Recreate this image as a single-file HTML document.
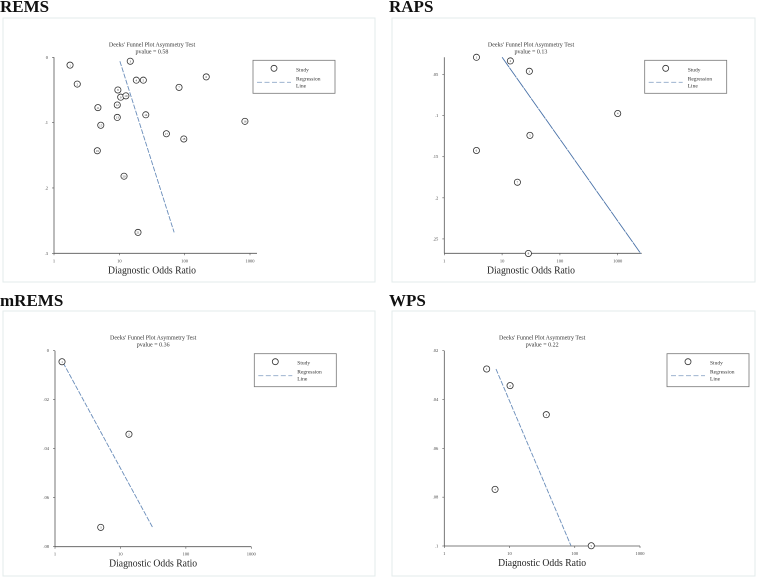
<!DOCTYPE html>
<html><head><meta charset="utf-8"><style>
html,body{margin:0;padding:0;background:#fff;}
svg{display:block;}
svg text{font-family:"Liberation Serif","DejaVu Serif",serif;}
</style></head><body>
<svg id="chart" width="758" height="578" viewBox="0 0 758 578"></svg>
<script>
// REMS
const remsDOR = [1.76,2.27,14.7,18.2,23.3,214,82,9.5,10.5,12.6,4.7,9.3,9.3,25.4,5.2,836,52.5,97,4.6,11.8,19.3];
const remsSE = [.012,.041,.006,.035,.035,.030,.046,.050,.061,.059,.077,.073,.092,.088,.104,.098,.117,.125,.143,.182,.268];
const remsLineDOR = [10.2,69];
const remsLineSE = [.006,.268];
const remsYTicks = [0,.1,.2,.3];
const remsYLabels = ["0",".1",".2",".3"];
// RAPS
const rapsDOR = [3.6,13.9,29.6,1000,30.3,3.6,18.4,28.5];
const rapsSE = [.029,.0334,.046,.0974,.124,.1424,.181,.2677];
const rapsLineDOR = [10,2500];
const rapsLineSE = [.029,.2677];
const rapsYTicks = [.05,.1,.15,.2,.25];
const rapsYLabels = [".05",".1",".15",".2",".25"];
// mREMS
const mremsDOR = [1.28,13.5,5.0];
const mremsSE = [.0045,.0341,.0721];
const mremsLineDOR = [1.33,31];
const mremsLineSE = [.0049,.0721];
const mremsYTicks = [0,.02,.04,.06,.08];
const mremsYLabels = ["0",".02",".04",".06",".08"];
// WPS
const wpsDOR = [4.46,10.2,36.6,6.0,179];
const wpsSE = [.0275,.0343,.0462,.0768,.0999];
const wpsLineDOR = [6.2,87.5];
const wpsLineSE = [.0275,.0999];
const wpsYTicks = [.02,.04,.06,.08,.1];
const wpsYLabels = [".02",".04",".06",".08",".1"];
const pvalues = ["0.58","0.13","0.36","0.22"];
const xTicks = [1,10,100,1000];
const xTickLabels = ["1","10","100","1000"];

const NS="http://www.w3.org/2000/svg";
const svg=document.getElementById('chart');
function mk(tag,attrs,parent){const e=document.createElementNS(NS,tag);for(const k in attrs)e.setAttribute(k,attrs[k]);(parent||svg).appendChild(e);return e;}

const panels=[
 {name:"REMS",box:[3,18,375,282],ax:54,xEnd:250,xAxisEnd:257,top:57.3,bot:253.3,ymin:0,ymax:.3,dor:remsDOR,se:remsSE,lx:remsLineDOR,ly:remsLineSE,yt:remsYTicks,yl:remsYLabels,pv:pvalues[0],titleY:12,solid:false},
 {name:"RAPS",box:[392,18,755,282],ax:444.3,xEnd:617.7,xAxisEnd:641.7,top:57.3,bot:253.3,ymin:.029,ymax:.2675,dor:rapsDOR,se:rapsSE,lx:rapsLineDOR,ly:rapsLineSE,yt:rapsYTicks,yl:rapsYLabels,pv:pvalues[1],titleY:12,solid:true},
 {name:"mREMS",box:[3,311,375,576],ax:55,xEnd:251.3,xAxisEnd:251.3,top:350.7,bot:546.7,ymin:0,ymax:.08,dor:mremsDOR,se:mremsSE,lx:mremsLineDOR,ly:mremsLineSE,yt:mremsYTicks,yl:mremsYLabels,pv:pvalues[2],titleY:306,solid:false},
 {name:"WPS",box:[392,311,755,576],ax:444.3,xEnd:640,xAxisEnd:640,top:350.7,bot:546,ymin:.02,ymax:.1,dor:wpsDOR,se:wpsSE,lx:wpsLineDOR,ly:wpsLineSE,yt:wpsYTicks,yl:wpsYLabels,pv:pvalues[3],titleY:306,solid:false}
];

panels.forEach((p,pi)=>{
 const g=mk('g',{});
 const key=p.name.toLowerCase();
 
 
 const xs=v=>p.ax+(Math.log10(v))/3*(p.xEnd-p.ax);
 const ys=v=>p.top+(v-p.ymin)/(p.ymax-p.ymin)*(p.bot-p.top);
 const ttl=mk('text',{x:p.box[0]-3,y:p.titleY,'font-size':17,'font-weight':'bold',fill:'#111'},g);
 ttl.textContent=p.name;
 
 
 const bx=mk('rect',{x:p.box[0],y:p.box[1],width:p.box[2]-p.box[0],height:p.box[3]-p.box[1],fill:'none',stroke:'#e3ebeb','stroke-width':1},g);
 
 
 const cx=(p.ax+p.xEnd)/2;
 const h1=mk('text',{x:cx,y:p.top-11,'font-size':6,'text-anchor':'middle',fill:'#333'},g);
 h1.textContent="Deeks' Funnel Plot Asymmetry Test";
 
 
 const h2=mk('text',{x:cx,y:p.top-4,'font-size':6,'text-anchor':'middle',fill:'#333'},g);
 h2.textContent="pvalue =  "+p.pv;
 
 
 const ya=mk('line',{x1:p.ax,y1:p.top,x2:p.ax,y2:p.bot,stroke:'#555','stroke-width':0.8},g);
 
 
 const xa=mk('line',{x1:p.ax,y1:p.bot,x2:p.xAxisEnd,y2:p.bot,stroke:'#555','stroke-width':0.8},g);
 
 
 p.yt.forEach((t,i)=>{
  const y=ys(t);
  mk('line',{x1:p.ax-2,y1:y,x2:p.ax,y2:y,stroke:'#555','stroke-width':0.6},g);
  const tl=mk('text',{x:p.ax-6,y:y+1.5,'font-size':4.5,'text-anchor':'end',fill:'#444'},g);
  tl.textContent=p.yl[i];
  
  
 });
 xTicks.forEach((t,i)=>{
  const x=xs(t);
  mk('line',{x1:x,y1:p.bot,x2:x,y2:p.bot+2,stroke:'#555','stroke-width':0.6},g);
  const tl=mk('text',{x:x,y:p.bot+9,'font-size':4.5,'text-anchor':'middle',fill:'#444'},g);
  tl.textContent=xTickLabels[i];
  
  
 });
 const xt=mk('text',{x:cx,y:p.bot+20,'font-size':11,'text-anchor':'middle',fill:'#222','font-family':'"DejaVu Serif", serif','textLength':88,'lengthAdjust':'spacingAndGlyphs'},g);
 xt.textContent="Diagnostic Odds Ratio";
 
 
 const rl=mk('line',{x1:xs(p.lx[0]),y1:ys(p.ly[0]),x2:xs(p.lx[1]),y2:ys(p.ly[1]),stroke:p.solid?'#4a72a8':'#6a8dba','stroke-width':0.9,'stroke-dasharray':p.solid?'12,0.6':'5,1.5'},g);
 
 
 p.dor.forEach((d,i)=>{
  const c=mk('circle',{cx:xs(d),cy:ys(p.se[i]),r:3.1,fill:'#fff',stroke:'#333','stroke-width':0.8},g);
  
  
  const n=mk('text',{x:xs(d),y:ys(p.se[i])+1.2,'font-size':3.2,'text-anchor':'middle',fill:'#333'},g);
  n.textContent=String(i+1);
 });
 const lx=p.xEnd+3+(pi%2===1?24:0), ly=p.top+3;
 const lg=mk('g',{},g);
 
 
 mk('rect',{x:lx,y:ly,width:82,height:33,fill:'#fff',stroke:'#777','stroke-width':0.8},lg);
 mk('circle',{cx:lx+21,cy:ly+8,r:3,fill:'#fff',stroke:'#333','stroke-width':0.8},lg);
 const s=mk('text',{x:lx+43,y:ly+11,'font-size':5.5,fill:'#333'},lg);s.textContent="Study";
 mk('line',{x1:lx+4,y1:ly+22,x2:lx+38,y2:ly+22,stroke:'#8fa8c8','stroke-width':0.9,'stroke-dasharray':'5,2.5'},lg);
 const r1=mk('text',{x:lx+43,y:ly+20,'font-size':5.5,fill:'#333'},lg);r1.textContent="Regression";
 const r2=mk('text',{x:lx+43,y:ly+27,'font-size':5.5,fill:'#333'},lg);r2.textContent="Line";
});
</script>
</body></html>
